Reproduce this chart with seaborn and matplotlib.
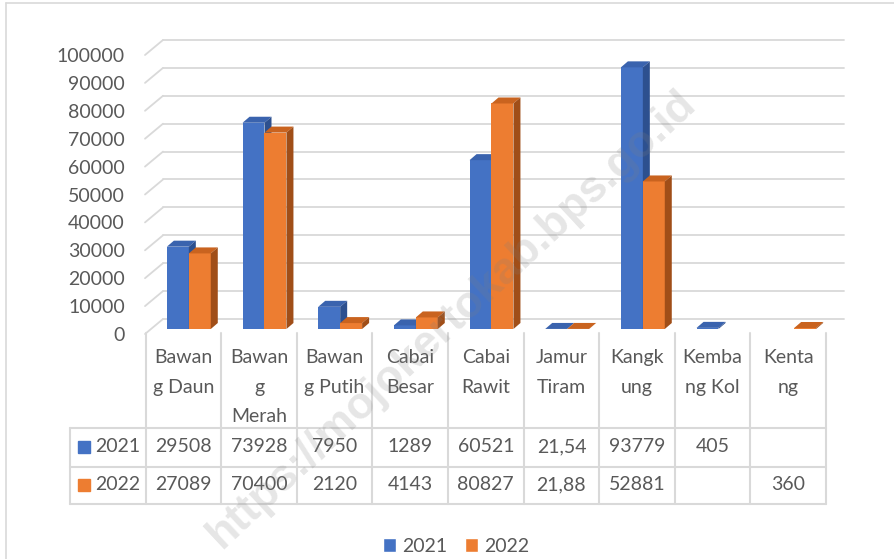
import numpy as np
import pandas as pd
import matplotlib
matplotlib.use('Agg')
import matplotlib.pyplot as plt
import matplotlib.transforms as mtransforms
from matplotlib.patches import Polygon, Patch
import seaborn as sns

# data
categories = ['Bawang Daun', 'Bawang Merah', 'Bawang Putih', 'Cabai Besar', 'Cabai Rawit',
              'Jamur Tiram', 'Kangkung', 'Kembang Kol', 'Kentang']
header_labels = ['Bawan\ng Daun', 'Bawan\ng\nMerah', 'Bawan\ng Putih', 'Cabai\nBesar', 'Cabai\nRawit',
                 'Jamur\nTiram', 'Kangk\nung', 'Kemba\nng Kol', 'Kenta\nng']
years = ['2021', '2022']
val_2021 = [29508, 73928, 7950, 1289, 60521, 21.54, 93779, 405, None]
val_2022 = [27089, 70400, 2120, 4143, 80827, 21.88, 52881, None, 360]
y_ticks = list(range(0, 100001, 10000))

blue, orange = '#4472C4', '#ED7D31'
face_cols = {'2021': ('#3A63AE', '#2D508F'), '2022': ('#C9631F', '#A04E18')}
grid_col = '#D9D9D9'
text_col = '#595959'

sns.set_style('white')
plt.rcParams['font.family'] = ['Lato', 'DejaVu Sans']

W, H = 895, 559
def fx(px):
    return px / W
def fy(py):
    return 1 - py / H

rows = []
for yr, vals in zip(years, [val_2021, val_2022]):
    for c, v in zip(categories, vals):
        if v is not None:
            rows.append({'kategori': c, 'tahun': yr, 'nilai': v})
df = pd.DataFrame(rows)

fig = plt.figure(figsize=(W / 100, H / 100), dpi=100)
# chart border
fig.add_artist(plt.Line2D([fx(6), fx(6)], [0, fy(3)], color=grid_col, lw=1.2))
fig.add_artist(plt.Line2D([fx(6), 1], [fy(3), fy(3)], color=grid_col, lw=1.2))

ax = fig.add_axes([fx(145), fy(334), (826 - 145) / W, (334 - 55) / H])
sns.barplot(data=df, x='kategori', y='nilai', hue='tahun', order=categories, hue_order=years,
            palette=[blue, orange], width=0.58, gap=0, errorbar=None, saturation=1,
            linewidth=0, legend=False, ax=ax)
ax.set_xlim(-0.5, 8.5)
ax.set_ylim(0, 100000)
ax.set_yticks(y_ticks)
ax.set_yticklabels([str(t) for t in y_ticks])
ax.set_xticks([])
ax.set_xlabel('')
ax.set_ylabel('')
ax.tick_params(axis='y', length=0, pad=14.4, labelsize=14, labelcolor=text_col)
for s in ax.spines.values():
    s.set_visible(False)
ax.patch.set_alpha(0)

px_x = (826 - 145) / 9
px_y = (334 - 55) / 100000

# back wall gridlines + side diagonals
grid_tr = ax.transData + mtransforms.ScaledTranslation(0.18, 0.15, fig.dpi_scale_trans)
for v in y_ticks:
    ax.plot([-0.5, 8.5], [v, v], transform=grid_tr, color=grid_col, lw=1.3, zorder=1, clip_on=False)
    ax.plot([-0.5, -0.5 + 18 / px_x], [v, v + 15 / px_y], color=grid_col, lw=1.3, zorder=1,
            clip_on=False)

# 3D bar faces
bar_tr = ax.transData + mtransforms.ScaledTranslation(0.06, 0.05, fig.dpi_scale_trans)
ddx, ddy = 7 / px_x, 6 / px_y
for k, (yr, cont) in enumerate(zip(years, ax.containers)):
    top_c, side_c = face_cols[yr]
    z = 3 + k
    for p in cont.patches:
        h = p.get_height()
        if not np.isfinite(h):
            continue
        x0, w = p.get_x(), p.get_width()
        p.set_transform(bar_tr)
        p.set_zorder(z)
        p.set_clip_on(False)
        top = Polygon([(x0, h), (x0 + ddx, h + ddy), (x0 + w + ddx, h + ddy), (x0 + w, h)],
                      closed=True, facecolor=top_c, edgecolor='none', transform=bar_tr,
                      zorder=z, clip_on=False)
        side = Polygon([(x0 + w, 0), (x0 + w, h), (x0 + w + ddx, h + ddy), (x0 + w + ddx, ddy)],
                       closed=True, facecolor=side_c, edgecolor='none', transform=bar_tr,
                       zorder=z, clip_on=False)
        ax.add_patch(top)
        ax.add_patch(side)

# data table
tax = fig.add_axes([fx(70), fy(504), (826 - 70) / W, (504 - 333) / H])
tax.set_xlim(-1.5, 8.5)
tax.set_ylim(504, 333)
tax.axis('off')
for i in range(10):
    tax.plot([i - 0.5, i - 0.5], [333, 504], color=grid_col, lw=1.5, clip_on=False)
tax.plot([-1.5, -1.5], [428, 504], color=grid_col, lw=1.5, clip_on=False)
for yy in [428, 467, 504]:
    tax.plot([-1.5, 8.5], [yy, yy], color=grid_col, lw=1.5, clip_on=False)


def fmt(v):
    if v is None:
        return ''
    if float(v).is_integer():
        return str(int(v))
    return f'{v:.2f}'.replace('.', ',')


for i, lab in enumerate(header_labels):
    tax.text(i, 349, lab, ha='center', va='top', fontsize=14, color=text_col, linespacing=1.9)
for yr, vals, yy, col in zip(years, [val_2021, val_2022], [447, 485], [blue, orange]):
    for i, v in enumerate(vals):
        tax.text(i, yy, fmt(v), ha='center', va='center', fontsize=14, color=text_col)
    tax.plot([-1.5 + 14 / px_x], [yy], marker='s', ms=8.6, color=col, clip_on=False)
    tax.text(-1.5 + 25 / px_x, yy, yr, ha='left', va='center', fontsize=14, color=text_col)

# legend
handles = [Patch(facecolor=blue, label='2021'), Patch(facecolor=orange, label='2022')]
fig.legend(handles=handles, loc='center', bbox_to_anchor=(fx(456), fy(546)), ncol=2,
           frameon=False, handlelength=0.7, handleheight=0.7, handletextpad=0.3,
           columnspacing=0.9, fontsize=14, labelcolor=text_col)

# watermark
fig.text(fx(452), fy(319), 'https://mojokertokab.bps.go.id', rotation=43, rotation_mode='anchor',
         ha='center', va='center', fontsize=32, fontweight='bold', color='#808080', alpha=0.2,
         family=['Liberation Sans', 'DejaVu Sans'], zorder=10)

fig.savefig('out.png', dpi=100)
